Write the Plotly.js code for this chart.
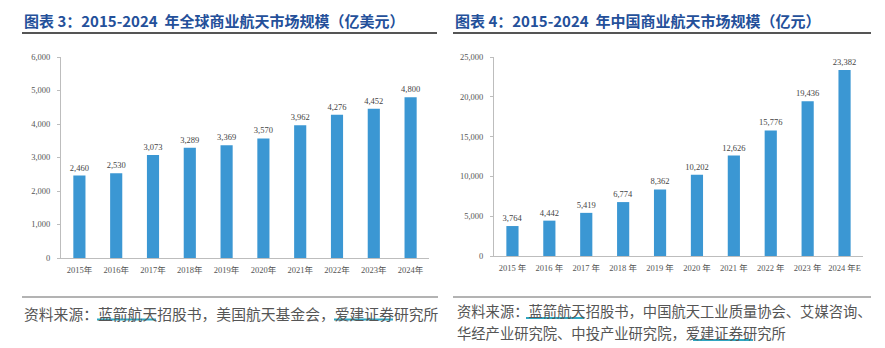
<!DOCTYPE html>
<html>
<head>
<meta charset="utf-8">
<script src="https://cdn.plot.ly/plotly-3.0.1.min.js"></script>
<style>html,body{margin:0;padding:0;background:#fff;}#chart{width:885px;height:348px;}</style>
</head>
<body>
<div id="chart"></div>
<script>
// ---- data ----
const globalYears = ['2015年','2016年','2017年','2018年','2019年','2020年','2021年','2022年','2023年','2024年'];
const globalValues = [2460, 2530, 3073, 3289, 3369, 3570, 3962, 4276, 4452, 4800];
const chinaYears = ['2015 年','2016 年','2017 年','2018 年','2019 年','2020 年','2021 年','2022 年','2023 年','2024 年E'];
const chinaValues = [3764, 4442, 5419, 6774, 8362, 10202, 12626, 15776, 19436, 23382];
const leftTitle = '图表 3：2015-2024  年全球商业航天市场规模（亿美元）';
const rightTitle = '图表 4：2015-2024  年中国商业航天市场规模（亿元）';
const leftSource = '资料来源：蓝箭航天招股书，美国航天基金会，爱建证券研究所';
const rightSource1 = '资料来源：蓝箭航天招股书，中国航天工业质量协会、艾媒咨询、';
const rightSource2 = '华经产业研究院、中投产业研究院，爱建证券研究所';

const W = 885, H = 348;
const px = x => x / W;
const py = y => 1 - y / H;

const barColor = '#3b97d3';
const numFont = {family: 'Liberation Serif, DejaVu Serif, serif', size: 8.5, color: '#444'};
const tickFont = {family: 'Liberation Serif, Noto Sans CJK SC, serif', size: 8.5, color: '#555'};
const cjk = 'Noto Sans CJK SC, sans-serif';

const traces = [
  {type: 'bar', x: globalYears, y: globalValues, xaxis: 'x', yaxis: 'y',
   marker: {color: barColor}, texttemplate: '%{y:,}', textposition: 'outside',
   constraintext: 'none', textfont: numFont, cliponaxis: false, hoverinfo: 'skip'},
  {type: 'bar', x: chinaYears, y: chinaValues, xaxis: 'x2', yaxis: 'y2',
   marker: {color: barColor}, texttemplate: '%{y:,}', textposition: 'outside',
   constraintext: 'none', textfont: numFont, cliponaxis: false, hoverinfo: 'skip'}
];

const axisCommonX = {type: 'category', showline: true, linecolor: '#bdbdbd', linewidth: 1,
  ticks: '', showgrid: false, zeroline: false, tickfont: tickFont, range: [-0.5, 9.5],
  ticklabelstandoff: 4, fixedrange: true};
const axisCommonY = {showline: true, linecolor: '#bdbdbd', linewidth: 1, ticks: 'outside',
  ticklen: 3, tickcolor: '#bdbdbd', showgrid: false, zeroline: false, tickfont: tickFont,
  tickformat: ',d', ticklabelstandoff: 5, fixedrange: true};

const ulColor = '#2fa6c1';
function hline(x0, x1, y, color, w) {
  return {type: 'line', xref: 'paper', yref: 'paper', x0: px(x0), x1: px(x1), y0: py(y), y1: py(y),
    line: {color: color, width: w}};
}

const layout = {
  width: W, height: H,
  margin: {l: 0, r: 0, t: 0, b: 0},
  paper_bgcolor: '#ffffff', plot_bgcolor: '#ffffff',
  showlegend: false,
  bargap: 0.67,
  xaxis: Object.assign({}, axisCommonX, {domain: [px(61), px(429)], anchor: 'y'}),
  yaxis: Object.assign({}, axisCommonY, {domain: [py(258), py(57)], range: [0, 6000], dtick: 1000, anchor: 'x'}),
  xaxis2: Object.assign({}, axisCommonX, {domain: [px(494), px(863)], anchor: 'y2'}),
  yaxis2: Object.assign({}, axisCommonY, {domain: [py(256), py(57)], range: [0, 25000], dtick: 5000, anchor: 'x2'}),
  annotations: [
    {xref: 'paper', yref: 'paper', x: px(22), y: py(20), xanchor: 'left', yanchor: 'middle', showarrow: false,
     text: '<b>' + leftTitle + '</b>', font: {family: cjk, size: 15, color: '#24509a'}},
    {xref: 'paper', yref: 'paper', x: px(453), y: py(20), xanchor: 'left', yanchor: 'middle', showarrow: false,
     text: '<b>' + rightTitle + '</b>', font: {family: cjk, size: 15, color: '#24509a'}},
    {xref: 'paper', yref: 'paper', x: px(22), y: py(313), xanchor: 'left', yanchor: 'middle', showarrow: false,
     text: leftSource, font: {family: cjk, size: 14.8, color: '#555'}},
    {xref: 'paper', yref: 'paper', x: px(455), y: py(310), xanchor: 'left', yanchor: 'middle', showarrow: false,
     text: rightSource1, font: {family: cjk, size: 14.3, color: '#555'}},
    {xref: 'paper', yref: 'paper', x: px(455), y: py(332), xanchor: 'left', yanchor: 'middle', showarrow: false,
     text: rightSource2, font: {family: cjk, size: 14.3, color: '#555'}}
  ],
  shapes: [
    hline(22, 437, 33, '#555', 2),
    hline(453, 871, 33, '#555', 2),
    hline(22, 438, 297, '#9a9a9a', 1.5),
    hline(453, 871, 297, '#9a9a9a', 1.5),
    hline(97, 156, 319.5, ulColor, 1.8),
    hline(334, 393, 319.5, ulColor, 1.8),
    hline(526, 584, 318, ulColor, 1.8),
    hline(693, 753, 340, ulColor, 1.8)
  ]
};

Plotly.newPlot('chart', traces, layout, {staticPlot: true, displayModeBar: false});
</script>
</body>
</html>
